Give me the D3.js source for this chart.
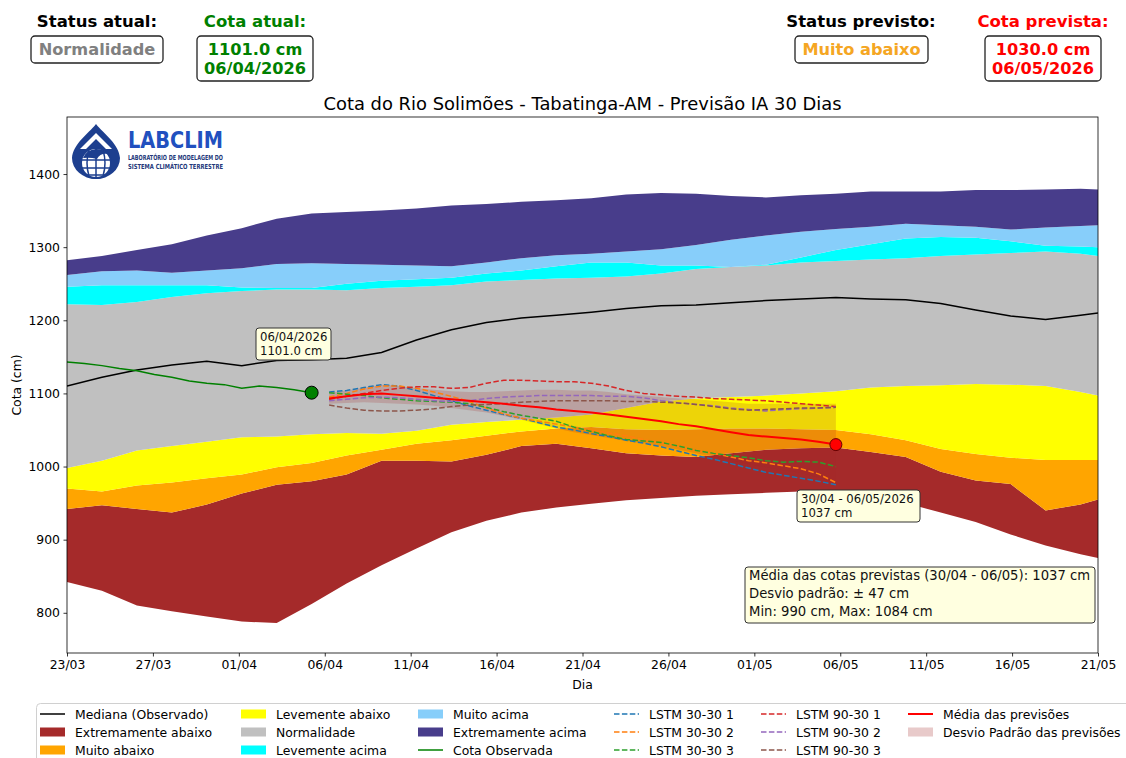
<!DOCTYPE html>
<html>
<head>
<meta charset="utf-8">
<script src="https://cdn.jsdelivr.net/npm/d3@7"></script>
<style>
body { margin: 0; background: #fff; }
svg { display: block; font-family: 'DejaVu Sans', sans-serif; }
</style>
</head>
<body>
<div id="chart"></div>
<script>
// faixas climatologicas (a cada 2 dias)
var bandDates = ['2026-03-23','2026-03-25','2026-03-27','2026-03-29','2026-03-31','2026-04-02','2026-04-04','2026-04-06',
	'2026-04-08','2026-04-10','2026-04-12','2026-04-14','2026-04-16','2026-04-18','2026-04-20','2026-04-22','2026-04-24',
	'2026-04-26','2026-04-28','2026-04-30','2026-05-02','2026-05-04','2026-05-06','2026-05-08','2026-05-10','2026-05-12',
	'2026-05-14','2026-05-16','2026-05-18','2026-05-20','2026-05-21'];
var extremoAbaixoMin = [842,830,810,802,795,788,786,812,840,865,888,910,926,937,944,949,954,957,960,962,964,966,967,958,950,937,924,907,892,880,875];
var extremoAbaixoMax = [942,947,942,937,948,963,975,980,989,1008,1008,1007,1016,1028,1031,1025,1018,1015,1013,1018,1023,1025,1026,1020,1013,993,981,976,940,948,955];
var muitoAbaixoMax = [970,966,974,978,984,989,999,1005,1015,1023,1031,1036,1042,1048,1052,1054,1051,1050,1051,1052,1052,1051,1050,1044,1036,1024,1017,1012,1009,1009,1009];
var levAbaixoMax = [998,1008,1022,1028,1034,1040,1041,1044,1046,1045,1049,1057,1061,1064,1067,1071,1080,1089,1093,1095,1097,1100,1103,1108,1110,1111,1113,1112,1110,1102,1097];
var normalMax = [1222,1221,1225,1232,1237,1240,1242,1242,1241,1244,1246,1248,1253,1255,1257,1258,1260,1264,1270,1273,1275,1279,1281,1283,1285,1288,1290,1292,1294,1291,1288];
var levAcimaMax = [1246,1248,1248,1248,1248,1245,1244,1244,1250,1254,1256,1258,1264,1268,1274,1279,1279,1275,1275,1273,1276,1286,1296,1304,1312,1314,1313,1308,1302,1301,1300];
var muitoAcimaMax = [1262,1267,1268,1265,1268,1271,1277,1278,1277,1276,1275,1274,1279,1285,1289,1291,1294,1297,1303,1310,1316,1321,1325,1328,1332,1330,1328,1324,1327,1329,1330];
var extremoAcimaMax = [1282,1288,1296,1304,1316,1326,1339,1346,1348,1350,1353,1357,1359,1362,1364,1367,1372,1374,1373,1370,1368,1371,1373,1376,1376,1376,1378,1378,1379,1380,1379];
var medianaObs = [1110,1122,1132,1139,1144,1138,1145,1146,1148,1156,1173,1187,1197,1203,1207,1211,1216,1220,1221,1224,1227,1229,1231,1229,1228,1223,1214,1206,1201,1207,1210];

// cota observada (23/03 - 06/04)
var obsStart = '2026-03-23';
var cotaObservada = [1143,1141,1138,1134,1131,1126,1122,1117,1114,1112,1107,1110,1108,1105,1101];

// previsoes (07/04 - 06/05)
var prevStart = '2026-04-07';
var lstm3030_1 = [1102,1104,1108,1112,1110,1104,1097,1090,1083,1077,1071,1066,1060,1054,1050,1045,1041,1036,1032,1027,1021,1015,1010,1004,998,992,988,984,980,975];
var lstm3030_2 = [1095,1100,1106,1110,1110,1107,1102,1096,1089,1080,1072,1066,1062,1058,1054,1050,1046,1042,1037,1032,1027,1022,1018,1013,1008,1005,1001,997,990,978];
var lstm3030_3 = [1101,1099,1097,1094,1092,1090,1089,1088,1086,1081,1075,1070,1066,1062,1054,1048,1042,1037,1035,1033,1028,1022,1018,1015,1012,1008,1006,1007,1006,1000];
var lstm9030_1 = [1092,1096,1100,1104,1107,1109,1109,1107,1108,1114,1118,1118,1117,1116,1116,1114,1110,1104,1100,1098,1096,1095,1093,1092,1091,1090,1088,1086,1084,1082];
var lstm9030_2 = [1090,1092,1094,1095,1094,1092,1090,1089,1090,1093,1095,1096,1097,1097,1097,1097,1096,1096,1094,1090,1087,1085,1083,1080,1078,1076,1078,1079,1080,1081];
var lstm9030_3 = [1084,1080,1077,1076,1076,1077,1079,1082,1084,1085,1086,1088,1089,1090,1090,1090,1090,1089,1089,1088,1087,1085,1082,1079,1077,1078,1079,1080,1080,1081];
var mediaPrev = [1093,1096,1099,1100,1098,1096,1094,1092,1090,1088,1086,1083,1081,1078,1076,1074,1071,1068,1065,1062,1058,1055,1051,1047,1043,1041,1039,1037,1034,1030];
var desvioSup = [1101,1104,1108,1112,1110,1107,1105,1103,1102,1102,1103,1104,1105,1105,1104,1104,1102,1099,1097,1095,1093,1092,1090,1088,1086,1086,1086,1086,1086,1086];
var desvioInf = [1086,1087,1088,1087,1086,1085,1083,1080,1077,1074,1069,1064,1058,1052,1047,1043,1039,1035,1032,1028,1023,1018,1013,1008,1003,999,995,991,985,978];

var xTickLabels = ['23/03','27/03','01/04','06/04','11/04','16/04','21/04','26/04','01/05','06/05','11/05','16/05','21/05'];
var yTicks = [800, 900, 1000, 1100, 1200, 1300, 1400];

var parse = d3.utcParse('%Y-%m-%d');
var width = 1126, height = 758;
var plotL = 67, plotR = 1098, plotT = 117, plotB = 653;

var svg = d3.select('#chart').append('svg')
	.attr('width', width)
	.attr('height', height);

var x = d3.scaleUtc()
	.domain([parse('2026-03-23'), parse('2026-05-21')])
	.range([plotL, plotR]);
var y = d3.scaleLinear()
	.domain([745, 1478])
	.range([plotB, plotT]);

var bd = bandDates.map(parse);
var obsDates = cotaObservada.map(function(v, i){ return d3.utcDay.offset(parse(obsStart), i); });
var prevDates = mediaPrev.map(function(v, i){ return d3.utcDay.offset(parse(prevStart), i); });

svg.append('clipPath').attr('id', 'clip')
	.append('rect').attr('x', plotL).attr('y', plotT).attr('width', plotR - plotL).attr('height', plotB - plotT);
var plot = svg.append('g').attr('clip-path', 'url(#clip)');

//faixas
var bands = [
	[extremoAbaixoMin, extremoAbaixoMax, '#a52a2a'],
	[extremoAbaixoMax, muitoAbaixoMax, '#ffa500'],
	[muitoAbaixoMax, levAbaixoMax, '#ffff00'],
	[levAbaixoMax, normalMax, '#c0c0c0'],
	[normalMax, levAcimaMax, '#00ffff'],
	[levAcimaMax, muitoAcimaMax, '#87cefa'],
	[muitoAcimaMax, extremoAcimaMax, '#483d8b']
];
bands.forEach(function(b){
	var area = d3.area()
		.x(function(d, i){ return x(bd[i]); })
		.y0(function(d, i){ return y(b[0][i]); })
		.y1(function(d, i){ return y(b[1][i]); });
	plot.append('path')
		.attr('d', area(bd))
		.attr('fill', b[2]);
});

var lineFor = function(dates){
	return d3.line()
		.x(function(d, i){ return x(dates[i]); })
		.y(function(d){ return y(d); });
};

plot.append('path')
	.attr('d', lineFor(bd)(medianaObs))
	.attr('fill', 'none')
	.attr('stroke', '#000')
	.attr('stroke-width', 1.5);

//desvio padrao
var stdArea = d3.area()
	.x(function(d, i){ return x(prevDates[i]); })
	.y0(function(d, i){ return y(desvioInf[i]); })
	.y1(function(d, i){ return y(desvioSup[i]); });
plot.append('path')
	.attr('d', stdArea(prevDates))
	.attr('fill', '#a52a2a')
	.attr('fill-opacity', 0.2);

var lstm = [
	[lstm3030_1, '#1f77b4'],
	[lstm3030_2, '#ff7f0e'],
	[lstm3030_3, '#2ca02c'],
	[lstm9030_1, '#d62728'],
	[lstm9030_2, '#9467bd'],
	[lstm9030_3, '#8c564b']
];
lstm.forEach(function(l){
	plot.append('path')
		.attr('d', lineFor(prevDates)(l[0]))
		.attr('fill', 'none')
		.attr('stroke', l[1])
		.attr('stroke-width', 1.5)
		.attr('stroke-dasharray', '5.5,2.4');
});

plot.append('path')
	.attr('d', lineFor(prevDates)(mediaPrev))
	.attr('fill', 'none')
	.attr('stroke', '#ff0000')
	.attr('stroke-width', 2);

plot.append('path')
	.attr('d', lineFor(obsDates)(cotaObservada))
	.attr('fill', 'none')
	.attr('stroke', '#008000')
	.attr('stroke-width', 1.5);

//pontos
svg.append('circle')
	.attr('cx', x(obsDates[obsDates.length - 1]))
	.attr('cy', y(cotaObservada[cotaObservada.length - 1]))
	.attr('r', 6.5)
	.attr('fill', '#008000')
	.attr('stroke', '#000');
svg.append('circle')
	.attr('cx', x(prevDates[prevDates.length - 1]))
	.attr('cy', y(mediaPrev[mediaPrev.length - 1]))
	.attr('r', 6)
	.attr('fill', '#ff0000')
	.attr('stroke', '#600');

//caixas de anotacao
function noteBox(x0, y0, w, h, lines, size, lh){
	var g = svg.append('g');
	g.append('rect')
		.attr('x', x0).attr('y', y0).attr('width', w).attr('height', h)
		.attr('rx', 3)
		.attr('fill', '#ffffe0')
		.attr('stroke', '#333')
		.attr('stroke-width', 1);
	lines.forEach(function(t, i){
		g.append('text')
			.attr('x', x0 + 4)
			.attr('y', y0 + 13 + i * lh)
			.attr('font-size', size)
			.attr('fill', '#111')
			.text(t);
	});
}
noteBox(256, 328, 75, 32, ['06/04/2026', '1101.0 cm'], 11.7, 13.5);
noteBox(797, 490, 123, 32, ['30/04 - 06/05/2026', '1037 cm'], 11.7, 13.5);
noteBox(745, 567, 350, 56, ['Média das cotas previstas (30/04 - 06/05): 1037 cm', 'Desvio padrão: ± 47 cm', 'Min: 990 cm, Max: 1084 cm'], 13.2, 18);

//eixos
var tv = xTickLabels.map(function(l, i){
	var d = x.domain();
	return new Date(+d[0] + i * (d[1] - d[0]) / (xTickLabels.length - 1));
});
var xAxis = svg.append('g')
	.attr('transform', 'translate(0,' + plotB + ')')
	.call(d3.axisBottom(x).tickValues(tv).tickFormat(function(d, i){ return xTickLabels[i]; }).tickSize(3.5).tickPadding(3.5));
var yAxis = svg.append('g')
	.attr('transform', 'translate(' + plotL + ',0)')
	.call(d3.axisLeft(y).tickValues(yTicks).tickFormat(d3.format('d')).tickSize(3.5).tickPadding(3.5));
[xAxis, yAxis].forEach(function(a){
	a.select('.domain').remove();
	a.selectAll('text').attr('font-size', 12.4).attr('font-family', 'DejaVu Sans').attr('fill', '#000');
	a.selectAll('line').attr('stroke', '#000').attr('stroke-width', 0.8);
});

svg.append('rect')
	.attr('x', plotL).attr('y', plotT).attr('width', plotR - plotL).attr('height', plotB - plotT)
	.attr('fill', 'none').attr('stroke', '#000').attr('stroke-width', 0.8);

svg.append('text')
	.attr('x', (plotL + plotR) / 2).attr('y', 689)
	.attr('text-anchor', 'middle').attr('font-size', 12.4)
	.text('Dia');
svg.append('text')
	.attr('transform', 'translate(21,' + (plotT + plotB) / 2 + ') rotate(-90)')
	.attr('text-anchor', 'middle').attr('font-size', 12.4)
	.text('Cota (cm)');
svg.append('text')
	.attr('x', (plotL + plotR) / 2).attr('y', 110)
	.attr('text-anchor', 'middle').attr('font-size', 17.9)
	.text('Cota do Rio Solimões - Tabatinga-AM - Previsão IA 30 Dias');

//logo
var logo = svg.append('g');
logo.append('path')
	.attr('d', 'M96,124 C104,134 119,144 120,158 A24,21 0 0 1 72,158 C73,144 88,134 96,124 Z')
	.attr('fill', '#1d3f8f');
logo.append('path')
	.attr('d', 'M96,133 L112,149 L106,149 L96,139 L86,149 L80,149 Z')
	.attr('fill', '#fff');
logo.append('circle').attr('cx', 96).attr('cy', 163).attr('r', 15)
	.attr('fill', '#fff').attr('stroke', '#1d3f8f').attr('stroke-width', 2);
logo.append('path')
	.attr('d', 'M82,160 H110 M82,168 H110 M86,175 H106 M96,148 V178 M89,150 Q85,163 89,176 M103,150 Q107,163 103,176')
	.attr('fill', 'none').attr('stroke', '#1d3f8f').attr('stroke-width', 1.5);
logo.append('path')
	.attr('d', 'M83,158 Q86,150 96,149 Q104,149 108,154 Q100,153 97,159 Q90,157 83,158 Z')
	.attr('fill', '#1d3f8f');
logo.append('text')
	.attr('x', 128).attr('y', 148)
	.attr('font-size', 23).attr('font-weight', 'bold').attr('fill', '#2150bf')
	.attr('textLength', 95).attr('lengthAdjust', 'spacingAndGlyphs')
	.text('LABCLIM');
logo.append('text')
	.attr('x', 128).attr('y', 160)
	.attr('font-size', 7).attr('font-weight', 'bold').attr('fill', '#23387a')
	.attr('textLength', 95).attr('lengthAdjust', 'spacingAndGlyphs')
	.text('LABORATÓRIO DE MODELAGEM DO');
logo.append('text')
	.attr('x', 128).attr('y', 169)
	.attr('font-size', 7).attr('font-weight', 'bold').attr('fill', '#23387a')
	.attr('textLength', 95).attr('lengthAdjust', 'spacingAndGlyphs')
	.text('SISTEMA CLIMÁTICO TERRESTRE');

//cabecalho
function header(cx, label, labelColor, lines, color, boxX, boxW){
	svg.append('text')
		.attr('x', cx).attr('y', 27)
		.attr('text-anchor', 'middle').attr('font-size', 16.5).attr('font-weight', 'bold')
		.attr('fill', labelColor)
		.text(label);
	svg.append('rect')
		.attr('x', boxX).attr('y', 36).attr('width', boxW).attr('height', lines.length > 1 ? 45 : 27)
		.attr('rx', 4)
		.attr('fill', '#fff').attr('stroke', '#222').attr('stroke-width', 1.3);
	lines.forEach(function(t, i){
		svg.append('text')
			.attr('x', boxX + boxW / 2).attr('y', 55 + i * 18.5)
			.attr('text-anchor', 'middle').attr('font-size', 16.2).attr('font-weight', 'bold')
			.attr('fill', color)
			.text(t);
	});
}
header(97, 'Status atual:', '#000', ['Normalidade'], '#808080', 31, 132);
header(255, 'Cota atual:', '#008000', ['1101.0 cm', '06/04/2026'], '#008000', 197, 116);
header(861, 'Status previsto:', '#000', ['Muito abaixo'], '#f5a623', 795, 133);
header(1043, 'Cota prevista:', '#ff0000', ['1030.0 cm', '06/05/2026'], '#ff0000', 985, 116);

//legenda
var legendItems = [
	{label: 'Mediana (Observado)', type: 'line', color: '#000'},
	{label: 'Extremamente abaixo', type: 'patch', color: '#a52a2a'},
	{label: 'Muito abaixo', type: 'patch', color: '#ffa500'},
	{label: 'Levemente abaixo', type: 'patch', color: '#ffff00'},
	{label: 'Normalidade', type: 'patch', color: '#c0c0c0'},
	{label: 'Levemente acima', type: 'patch', color: '#00ffff'},
	{label: 'Muito acima', type: 'patch', color: '#87cefa'},
	{label: 'Extremamente acima', type: 'patch', color: '#483d8b'},
	{label: 'Cota Observada', type: 'line', color: '#008000'},
	{label: 'LSTM 30-30 1', type: 'dash', color: '#1f77b4'},
	{label: 'LSTM 30-30 2', type: 'dash', color: '#ff7f0e'},
	{label: 'LSTM 30-30 3', type: 'dash', color: '#2ca02c'},
	{label: 'LSTM 90-30 1', type: 'dash', color: '#d62728'},
	{label: 'LSTM 90-30 2', type: 'dash', color: '#9467bd'},
	{label: 'LSTM 90-30 3', type: 'dash', color: '#8c564b'},
	{label: 'Média das previsões', type: 'line', color: '#ff0000'},
	{label: 'Desvio Padrão das previsões', type: 'std', color: '#a52a2a'}
];
var colX = [40, 241, 418, 614, 761, 908];
var rowY = [714, 732, 750];

svg.append('rect')
	.attr('x', 36.5).attr('y', 703.5).attr('width', 1100).attr('height', 62)
	.attr('rx', 4)
	.attr('fill', '#fff').attr('stroke', '#d0d0d0').attr('stroke-width', 1);

var lg = svg.selectAll('.leg')
	.data(legendItems)
	.enter().append('g')
		.attr('class', 'leg')
		.attr('transform', function(d, i){
			return 'translate(' + colX[Math.floor(i / 3)] + ',' + rowY[i % 3] + ')';
		});
lg.each(function(d){
	var g = d3.select(this);
	if (d.type === 'patch' || d.type === 'std') {
		g.append('rect')
			.attr('x', 0).attr('y', -4.5).attr('width', 25).attr('height', 9)
			.attr('fill', d.color)
			.attr('fill-opacity', d.type === 'std' ? 0.25 : 1);
	} else {
		g.append('line')
			.attr('x1', 0).attr('x2', 25).attr('y1', 0).attr('y2', 0)
			.attr('stroke', d.color)
			.attr('stroke-width', d.type === 'line' && d.color === '#ff0000' ? 2 : 1.5)
			.attr('stroke-dasharray', d.type === 'dash' ? '5.5,2.4' : null);
	}
	g.append('text')
		.attr('x', 35).attr('y', 4.5)
		.attr('font-size', 12.4)
		.text(d.label);
});
</script>
</body>
</html>
